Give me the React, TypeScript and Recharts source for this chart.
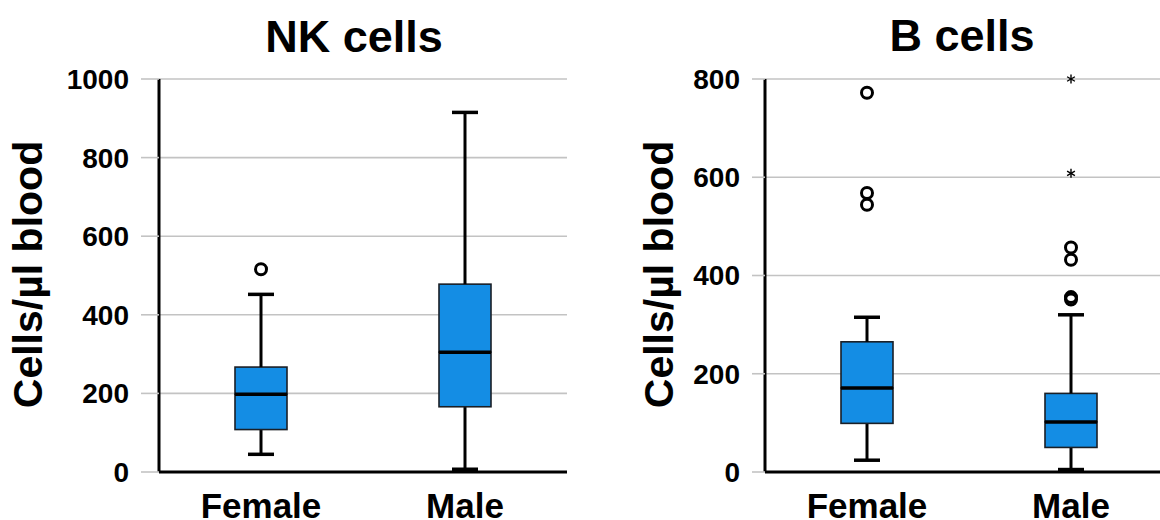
import React from 'react'
import { ComposedChart, Bar, Scatter, XAxis, YAxis, CartesianGrid } from 'recharts'

const FONT = '"Liberation Sans", Arial, sans-serif'
const BOX_FILL = '#148de4'
const GRID = '#c3c3c3'

const CATEGORIES = ['Female', 'Male']

// NK cells (cells/µl blood)
const NK_MIN = [45, 7]
const NK_Q1 = [108, 166]
const NK_MEDIAN = [198, 305]
const NK_Q3 = [267, 478]
const NK_MAX = [452, 915]
const NK_OUTLIERS = [{ group: 'Female', value: 516 }]
const NK_EXTREMES: { group: string; value: number }[] = []
const NK_TICKS = [0, 200, 400, 600, 800, 1000]

// B cells (cells/µl blood)
const B_MIN = [24, 5]
const B_Q1 = [99, 50]
const B_MEDIAN = [171, 102]
const B_Q3 = [265, 160]
const B_MAX = [315, 320]
const B_OUTLIERS = [
  { group: 'Female', value: 772 },
  { group: 'Female', value: 568 },
  { group: 'Female', value: 544 },
  { group: 'Male', value: 457 },
  { group: 'Male', value: 432 },
  { group: 'Male', value: 356 },
  { group: 'Male', value: 351 },
]
const B_EXTREMES = [
  { group: 'Male', value: 800 },
  { group: 'Male', value: 608 },
]
const B_TICKS = [0, 200, 400, 600, 800]

function buildRows(min: number[], q1: number[], med: number[], q3: number[], max: number[]) {
  return CATEGORIES.map((group, i) => ({
    group,
    base: min[i],
    lowWhisker: q1[i] - min[i],
    boxLow: med[i] - q1[i],
    boxHigh: q3[i] - med[i],
    highWhisker: max[i] - q3[i],
  }))
}

const Whisker = (props: any, capAtTop: boolean) => {
  const { x, y, width, height } = props
  const cx = x + width / 2
  const capY = capAtTop ? y : y + height
  return (
    <g>
      <line x1={cx} x2={cx} y1={y} y2={y + height} stroke="#000" strokeWidth={3} />
      <line x1={cx - 13} x2={cx + 13} y1={capY} y2={capY} stroke="#000" strokeWidth={3.5} />
    </g>
  )
}

const BoxPart = (props: any, medianAtBottom: boolean) => {
  const { x, y, width, height } = props
  return (
    <g>
      <rect x={x} y={y} width={width} height={height} fill={BOX_FILL} stroke="#1a1f26" strokeWidth={1.6} />
      {medianAtBottom && (
        <line x1={x} x2={x + width} y1={y + height} y2={y + height} stroke="#000" strokeWidth={3.5} />
      )}
    </g>
  )
}

const Outlier = (props: any) => (
  <circle cx={props.cx} cy={props.cy} r={5.5} fill="none" stroke="#000" strokeWidth={3} />
)

const Extreme = (props: any) => {
  const { cx, cy } = props
  const r = 4.5
  return (
    <g stroke="#000" strokeWidth={1.4}>
      <line x1={cx} x2={cx} y1={cy - r} y2={cy + r} />
      <line x1={cx - r * 0.87} x2={cx + r * 0.87} y1={cy - r / 2} y2={cy + r / 2} />
      <line x1={cx - r * 0.87} x2={cx + r * 0.87} y1={cy + r / 2} y2={cy - r / 2} />
    </g>
  )
}

type PanelProps = {
  rows: ReturnType<typeof buildRows>
  outliers: { group: string; value: number }[]
  extremes: { group: string; value: number }[]
  ticks: number[]
  yAxisWidth: number
  tickSize: number
  labelX: number
  width: number
  marginRight: number
}

function Panel({ rows, outliers, extremes, ticks, yAxisWidth, tickSize, labelX, width, marginRight }: PanelProps) {
  const max = ticks[ticks.length - 1]
  return (
    <ComposedChart
      width={width}
      height={520}
      data={rows}
      margin={{ top: 79, right: marginRight, bottom: 0, left: 0 }}
    >
      <CartesianGrid horizontal vertical={false} stroke={GRID} strokeWidth={1.6} />
      <XAxis
        dataKey="group"
        type="category"
        allowDuplicatedCategory={false}
        height={48}
        tickLine={false}
        tickSize={0}
        tickMargin={21}
        axisLine={{ stroke: '#000', strokeWidth: 3 }}
        tick={{ fontSize: 35, fontWeight: 700, fill: '#000', fontFamily: FONT }}
      />
      <YAxis
        type="number"
        domain={[0, max]}
        ticks={ticks}
        interval={0}
        width={yAxisWidth}
        tickSize={tickSize}
        tickMargin={12}
        tickLine={{ stroke: GRID, strokeWidth: 1.6 }}
        axisLine={{ stroke: '#000', strokeWidth: 3 }}
        tick={{ fontSize: 28, fontWeight: 700, fill: '#000', fontFamily: FONT }}
        label={{
          content: (p: any) => {
            const vb = p.viewBox || { x: 0, y: 79, height: 393 }
            const ty = vb.y + vb.height / 2 - 1
            return (
              <text
                x={0}
                y={0}
                transform={`translate(${vb.x + labelX}, ${ty}) rotate(-90)`}
                textAnchor="middle"
                fontSize={41}
                fontWeight={700}
                fontFamily={FONT}
                fill="#000"
              >
                Cells/µl blood
              </text>
            )
          },
        }}
      />
      <Bar dataKey="base" stackId="box" barSize={52} isAnimationActive={false} shape={() => <g />} />
      <Bar dataKey="lowWhisker" stackId="box" barSize={52} isAnimationActive={false} shape={(p: any) => Whisker(p, false)} />
      <Bar dataKey="boxLow" stackId="box" barSize={52} isAnimationActive={false} shape={(p: any) => BoxPart(p, false)} />
      <Bar dataKey="boxHigh" stackId="box" barSize={52} isAnimationActive={false} shape={(p: any) => BoxPart(p, true)} />
      <Bar dataKey="highWhisker" stackId="box" barSize={52} isAnimationActive={false} shape={(p: any) => Whisker(p, true)} />
      <Scatter data={outliers} dataKey="value" isAnimationActive={false} shape={Outlier} />
      {extremes.length > 0 && (
        <Scatter data={extremes} dataKey="value" isAnimationActive={false} shape={Extreme} />
      )}
    </ComposedChart>
  )
}

export default function App() {
  const nkRows = buildRows(NK_MIN, NK_Q1, NK_MEDIAN, NK_Q3, NK_MAX)
  const bRows = buildRows(B_MIN, B_Q1, B_MEDIAN, B_Q3, B_MAX)
  return (
    <div
      style={{
        position: 'absolute',
        left: 0,
        top: 0,
        width: 1160,
        height: 520,
        overflow: 'hidden',
        background: '#fff',
      }}
    >
      <div style={{ position: 'absolute', left: 0, top: 0 }}>
        <Panel
          rows={nkRows}
          outliers={NK_OUTLIERS}
          extremes={NK_EXTREMES}
          ticks={NK_TICKS}
          yAxisWidth={159}
          tickSize={18}
          labelX={41.7}
          width={580}
          marginRight={13}
        />
      </div>
      <div style={{ position: 'absolute', left: 600, top: 0 }}>
        <Panel
          rows={bRows}
          outliers={B_OUTLIERS}
          extremes={B_EXTREMES}
          ticks={B_TICKS}
          yAxisWidth={165}
          tickSize={13}
          labelX={73.3}
          width={600}
          marginRight={27}
        />
      </div>
      <svg
        width={1160}
        height={520}
        style={{ position: 'absolute', left: 0, top: 0, pointerEvents: 'none' }}
      >
        <text x={354} y={52} textAnchor="middle" fontSize={45} fontWeight={700} fontFamily={FONT} fill="#000">
          NK cells
        </text>
        <text x={962} y={51} textAnchor="middle" fontSize={45} fontWeight={700} fontFamily={FONT} fill="#000">
          B cells
        </text>
      </svg>
    </div>
  )
}
